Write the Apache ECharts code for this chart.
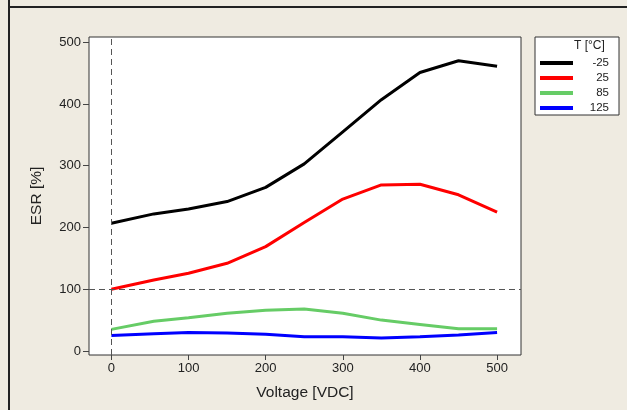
<!DOCTYPE html>
<html>
<head>
<meta charset="utf-8">
<script src="https://cdn.jsdelivr.net/npm/echarts@6/dist/echarts.min.js"></script>
<style>
html,body{margin:0;padding:0;background:#EFEBE1;}
#chart{width:627px;height:410px;}
</style>
</head>
<body>
<div id="chart"></div>
<script>
var voltage = [0, 55, 100, 150, 200, 250, 300, 350, 400, 450, 500];
var seriesNames = ['-25', '25', '85', '125'];
var esrM25 = [207, 222, 230, 242, 265, 303, 355, 407, 451, 470, 461];
var esr25  = [100, 115, 126, 142, 169, 208, 246, 269, 270, 253, 225];
var esr85  = [35, 48, 54, 61, 66, 68, 61, 50, 43, 36, 36];
var esr125 = [25, 28, 30, 29, 27, 23, 23, 21, 23, 26, 30];
var xTicks = [0, 100, 200, 300, 400, 500];
var yTicks = [0, 100, 200, 300, 400, 500];
var refX = 0;
var refY = 100;

var colors = ['#000000', '#ff0000', '#66cc66', '#0000ff'];
var allData = [esrM25, esr25, esr85, esr125];
function pairs(ys){ return voltage.map(function(v,i){ return [v, ys[i]]; }); }

var FONT = 'Liberation Sans';
var chart = echarts.init(document.getElementById('chart'));
var series = [{
  name: 'ref', type: 'line', data: [], z: 1, silent: true,
  markLine: {
    silent: true, symbol: 'none', label: {show: false},
    lineStyle: {color: '#555', width: 1, type: [6, 4]},
    data: [{xAxis: refX}, {yAxis: refY}]
  }
}];
seriesNames.forEach(function(n, i){
  series.push({
    name: n, type: 'line', data: pairs(allData[i]), z: 3,
    showSymbol: false, symbol: 'none',
    lineStyle: {color: colors[i], width: 3},
    itemStyle: {color: colors[i]}
  });
});

chart.setOption({
  backgroundColor: '#EFEBE1',
  animation: false,
  grid: {left: 89, top: 37, width: 432, height: 318, show: true,
         backgroundColor: '#ffffff', borderColor: '#333', borderWidth: 1},
  xAxis: {
    type: 'value', min: -29, max: 531,
    name: 'Voltage [VDC]', nameLocation: 'middle', nameGap: 30,
    nameTextStyle: {fontFamily: FONT, fontSize: 15.5, color: '#222'},
    axisLine: {show: false, onZero: false},
    splitLine: {show: false},
    axisTick: {show: true, length: 5, inside: false, customValues: xTicks, lineStyle: {color: '#444'}},
    axisLabel: {customValues: xTicks, fontFamily: FONT, fontSize: 13, color: '#222', margin: 7}
  },
  yAxis: {
    type: 'value', min: -6.5, max: 508.5,
    name: 'ESR [%]', nameLocation: 'middle', nameGap: 44, nameRotate: 90,
    nameTextStyle: {fontFamily: FONT, fontSize: 15.5, color: '#222'},
    axisLine: {show: false, onZero: false},
    splitLine: {show: false},
    axisTick: {show: true, length: 6, inside: false, customValues: yTicks, lineStyle: {color: '#444'}},
    axisLabel: {customValues: yTicks, fontFamily: FONT, fontSize: 13, color: '#222', margin: 8}
  },
  legend: {
    data: seriesNames, orient: 'vertical', left: 535, top: 37,
    icon: 'rect', itemWidth: 33, itemHeight: 4, itemGap: 3,
    padding: [20, 10, 1, 5],
    backgroundColor: '#ffffff', borderColor: '#333', borderWidth: 1,
    textStyle: {fontFamily: FONT, fontSize: 11, color: '#222',
      rich: {r: {width: 31, align: 'right', fontFamily: FONT, fontSize: 11.5, color: '#222'}}},
    formatter: function(n){ return '{r|' + n + '}'; }
  },
  graphic: [
    {type: 'text', left: 574, top: 40, z: 100,
     style: {text: 'T [°C]', fontFamily: FONT, fontSize: 12, fill: '#222'}},
    {type: 'line', shape: {x1: 9, y1: 0, x2: 9, y2: 410}, style: {stroke: '#222', lineWidth: 2}},
    {type: 'line', shape: {x1: 9, y1: 7, x2: 627, y2: 7}, style: {stroke: '#222', lineWidth: 2}}
  ],
  series: series
});
</script>
</body>
</html>
